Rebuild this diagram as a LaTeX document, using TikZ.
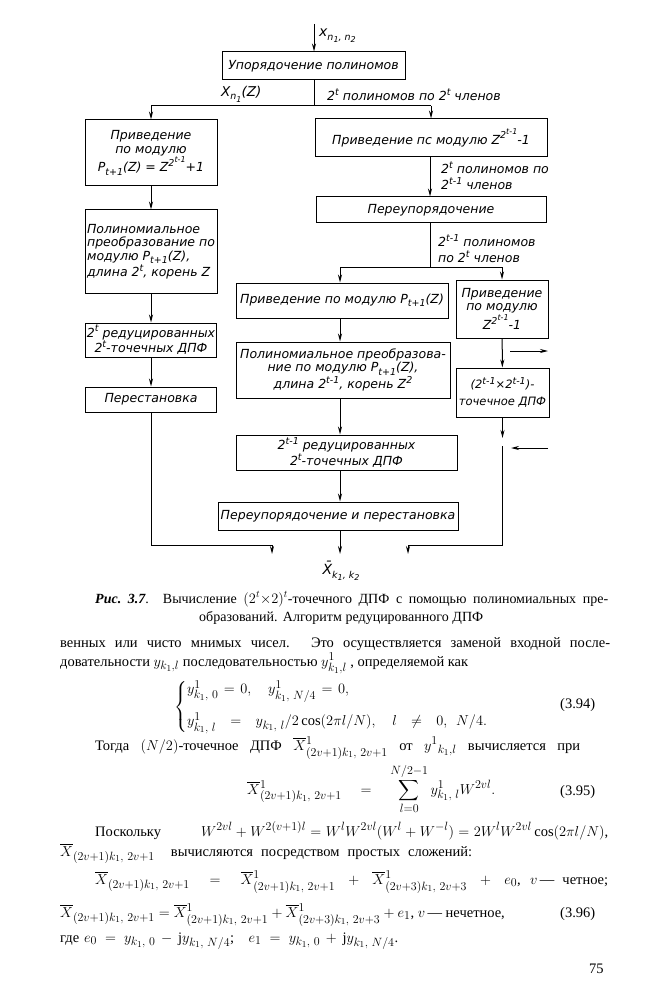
\documentclass[tikz,border=0pt]{standalone}
\usepackage{amsmath}
\usepackage{fontspec}
\setmainfont{Liberation Serif}
\newfontfamily\drawfont{DejaVu Sans}
\DeclareMathSizes{14.5}{14.5}{12}{9}
\DeclareMathSizes{14}{14}{10}{7.5}
\usetikzlibrary{arrows.meta}
\newcommand{\myup}[1]{\raisebox{0.42em}{\fontsize{9.5}{9.5}\selectfont #1}}
\newcommand{\myupp}[1]{\raisebox{0.42em}{\fontsize{8}{8}\selectfont #1}}
\newcommand{\mydn}[1]{\raisebox{-0.28em}{\fontsize{9.5}{9.5}\selectfont #1}}
\newcommand{\mydnn}[1]{\raisebox{-0.22em}{\fontsize{8}{8}\selectfont #1}}
\newcommand{\loosemath}{\thickmuskip=5mu plus 8mu\medmuskip=4mu plus 5mu minus 4mu\relax}
\tikzset{
  blk/.style={draw, line width=1pt, font=\drawfont\itshape\fontsize{12.5}{13.5}\selectfont, inner sep=2pt, align=center},
  flow/.style={line width=1pt, -{Stealth[length=8pt,width=4pt]}},
  wire/.style={line width=1pt},
  lbl/.style={font=\drawfont\itshape\fontsize{12.5}{16}\selectfont, inner sep=0pt, align=left},
  body/.style={font=\fontsize{14.5}{17}\selectfont\loosemath, inner sep=0pt, anchor=base west},
  capt/.style={font=\fontsize{14}{16}\selectfont\loosemath, inner sep=0pt, anchor=base west},
}
\begin{document}
\begin{tikzpicture}[x=1pt,y=-1pt]
\useasboundingbox[fill=white] (0,0) rectangle (650,1000);

% ---------- flowchart boxes ----------
\node[blk, minimum width=183pt, minimum height=28pt] (b1) at (313.5,66) {Упорядочение полиномов};
\node[blk, minimum width=132pt, minimum height=66pt] (L1) at (151,153) {Приведение\\по модулю\\P\mydn{t+1}(Z) = Z\myup{2\myupp{t-1}}+1};
\node[blk, minimum width=132pt, minimum height=83pt, align=left, inner sep=1pt] (L2) at (151,251.5) {Полиномиальное\\преобразование по\\модулю P\mydn{t+1}(Z),\\длина 2\myup{t}, корень Z};
\node[blk, minimum width=131pt, minimum height=34pt, inner sep=1pt] (L3) at (151,340) {2\myup{t} редуцированных\\2\myup{t}-точечных ДПФ};
\node[blk, minimum width=131pt, minimum height=25pt] (L4) at (151,399.5) {Перестановка};

\node[blk, minimum width=232pt, minimum height=38pt] (R1) at (431,138) {Приведение пс модулю Z\myup{2\myupp{t-1}}-1};
\node[blk, minimum width=230pt, minimum height=26pt] (R2) at (431,210) {Переупорядочение};

\node[blk, minimum width=212pt, minimum height=35pt] (M1) at (342,300.5) {Приведение по модулю P\mydn{t+1}(Z)};
\node[blk, minimum width=214pt, minimum height=56pt] (M2) at (343,370) {Полиномиальное преобразова-\\ние по модулю P\mydn{t+1}(Z),\\длина 2\myup{t-1}, корень Z\myup{2}};
\node[blk, minimum width=221pt, minimum height=35pt] (M3) at (346.5,452.5) {2\myup{t-1} редуцированных\\2\myup{t}-точечных ДПФ};
\node[blk, minimum width=240pt, minimum height=28pt] (M4) at (338,516) {Переупорядочение и перестановка};

\node[blk, minimum width=92pt, minimum height=58pt, inner sep=1pt] (N1) at (502,309) {Приведение\\по модулю\\Z\myup{2\myupp{t-1}}-1};
\node[blk, minimum width=93pt, minimum height=49pt, inner sep=0pt, font=\drawfont\itshape\fontsize{11.5}{17}\selectfont] (N2) at (502.5,392.5) {(2\myup{t-1}×2\myup{t-1})-\\точечное ДПФ};

% ---------- labels ----------
\node[lbl, anchor=west, font=\drawfont\itshape\fontsize{14}{16}\selectfont] (lin) at (319,36) {x\mydn{n\mydnn{1}, n\mydnn{2}}};
\node[lbl, anchor=west, font=\drawfont\itshape\fontsize{13.5}{16}\selectfont] (lxz) at (221,94) {X\mydn{n\mydnn{1}}(Z)};
\node[lbl, anchor=west] (l2t) at (327,95) {2\myup{t} полиномов по 2\myup{t} членов};
\node[lbl, anchor=west] (l2tb) at (441,176) {2\myup{t} полиномов по\\2\myup{t-1} членов};
\node[lbl, anchor=west] (l2tc) at (438,249) {2\myup{t-1} полиномов\\по 2\myup{t} членов};
\node[lbl, anchor=center, font=\drawfont\itshape\fontsize{14}{16}\selectfont] (xout) at (341,571) {\={X}\mydn{k\mydnn{1}, k\mydnn{2}}};

% ---------- coordinates ----------
\coordinate (top) at (314,24);
\coordinate (s1) at (314,106);
\coordinate (s2) at (430,267);
\coordinate (cx) at (340,0);
\coordinate (out) at (340,554);
\coordinate (cl) at (151,545);
\coordinate (jl) at (272,545);
\coordinate (el) at (272,554);
\coordinate (gapA) at (502.5,438);
\coordinate (gapB) at (502.5,446);
\coordinate (cr) at (502.5,545);
\coordinate (jr) at (408,545);
\coordinate (er) at (408,554);
\coordinate (sa1) at (510,351);
\coordinate (sa2) at (548,351);
\coordinate (sb1) at (548,448);
\coordinate (sb2) at (511,448);

% ---------- connectors ----------
\draw[flow] (top) -- (b1.north -| top);
\draw[wire] (b1.south -| s1) -- (s1);
\draw[wire] (s1 -| L1.north) -- (s1 -| R1.north);
\draw[flow] (s1 -| L1.north) -- (L1.north);
\draw[flow] (s1 -| R1.north) -- (R1.north);
\draw[flow] (L1) -- (L2);
\draw[flow] (L2) -- (L3);
\draw[flow] (L3) -- (L4);
\draw[flow] (L4.south) -- (cl) -- (jl) -- (el);

\draw[flow] (R1.south -| s2) -- (R2.north -| s2);
\draw[wire] (R2.south -| s2) -- (s2);
\draw[wire] (s2 -| cx) -- (s2 -| N1.north);
\draw[flow] (s2 -| cx) -- (M1.north -| cx);
\draw[flow] (s2 -| N1.north) -- (N1.north);
\draw[flow] (M1.south -| cx) -- (M2.north -| cx);
\draw[flow] (M2.south -| cx) -- (M3.north -| cx);
\draw[flow] (M3.south -| cx) -- (M4.north -| cx);
\draw[flow] (M4.south -| cx) -- (out);

\draw[flow] (N1) -- (N2);
\draw[flow] (N2.south) -- (gapA);
\draw[flow] (gapB) -- (cr) -- (jr) -- (er);
\draw[flow] (sa1) -- (sa2);
\draw[flow] (sb1) -- (sb2);

% ---------- caption and text ----------
\node[capt] (cap1) at (95,603) {\makebox[513pt][s]{{\bfseries\itshape Рис.~3.7}. Вычисление $(2^t{\times}2)^t$-точечного ДПФ с помощью полиномиальных пре-}};
\node[capt] (cap2) at (199,621) {\makebox[284pt][s]{образований. Алгоритм редуцированного ДПФ}};

\node[body] (t1) at (60,647) {\makebox[550pt][s]{венных или чисто мнимых чисел. Это осуществляется заменой входной после-}};
\node[body] (t2) at (60,666) {\makebox[408pt][s]{довательности $y_{k_1,l}$ последовательностью $y^1_{k_1,l}$ , определяемой как}};

\node[body, anchor=west] (e394) at (174,707) {$\left\{\begin{array}{@{}l@{}} \makebox[162pt][s]{$\loosemath y^1_{k_1,\ 0}=0,\quad y^1_{k_1,\ N/4}=0,$}\hfill\\[14pt] \makebox[300pt][s]{$\loosemath y^1_{k_1,\ l}=y_{k_1,\ l}/2\cos(2\pi l/N),\quad l\neq0,\ N/4.$}\end{array}\right.$};
\node[body] (n394) at (560,708) {(3.94)};

\node[body] (t3) at (95,750) {\makebox[485pt][s]{Тогда $(N/2)$-точечное ДПФ $\overline{X}{}^1_{(2v+1)k_1,\ 2v+1}$ от $y^1{}_{k_1,l}$ вычисляется при}};
\node[body] (e395) at (247,794) {\makebox[248pt][s]{$\displaystyle\loosemath \overline{X}{}^{1}_{(2v+1)k_1,\ 2v+1}=\sum_{l=0}^{N/2-1}y^1_{k_1,\ l}W^{2vl}.$}};
\node[body] (n395) at (560,795) {(3.95)};

\node[body] (t4) at (95,836) {\makebox[513pt][s]{Поскольку\hspace{40pt}$W^{2vl}+W^{2(v+1)l} = W^lW^{2vl}(W^l+W^{-l}) = 2W^lW^{2vl}\cos(2\pi l/N)$,}};
\node[body] (t5) at (60,856) {\makebox[412pt][s]{$\overline{X}_{(2v+1)k_1,\ 2v+1}$\ \ вычисляются посредством простых сложений:}};

\node[body] (e396a) at (95,884) {\makebox[513pt][s]{$\overline{X}_{(2v+1)k_1,\ 2v+1}=\overline{X}{}^1_{(2v+1)k_1,\ 2v+1}+\overline{X}{}^1_{(2v+3)k_1,\ 2v+3}+e_0$, $v$\,— четное;}};
\node[body] (e396b) at (60,917) {$\overline{X}_{(2v+1)k_1,\ 2v+1}=\overline{X}{}^1_{(2v+1)k_1,\ 2v+1}+\overline{X}{}^1_{(2v+3)k_1,\ 2v+3}+e_1$, $v$\,— нечетное,};
\node[body] (n396) at (560,917) {(3.96)};
\node[body] (t6) at (60,942) {\makebox[338pt][s]{где $e_0=y_{k_1,\ 0}-\mathrm{j}y_{k_1,\ N/4}$;\quad $e_1=y_{k_1,\ 0}+\mathrm{j}y_{k_1,\ N/4}$.}};

\node[body] (pg) at (589,973) {75};
\end{tikzpicture}
\end{document}
